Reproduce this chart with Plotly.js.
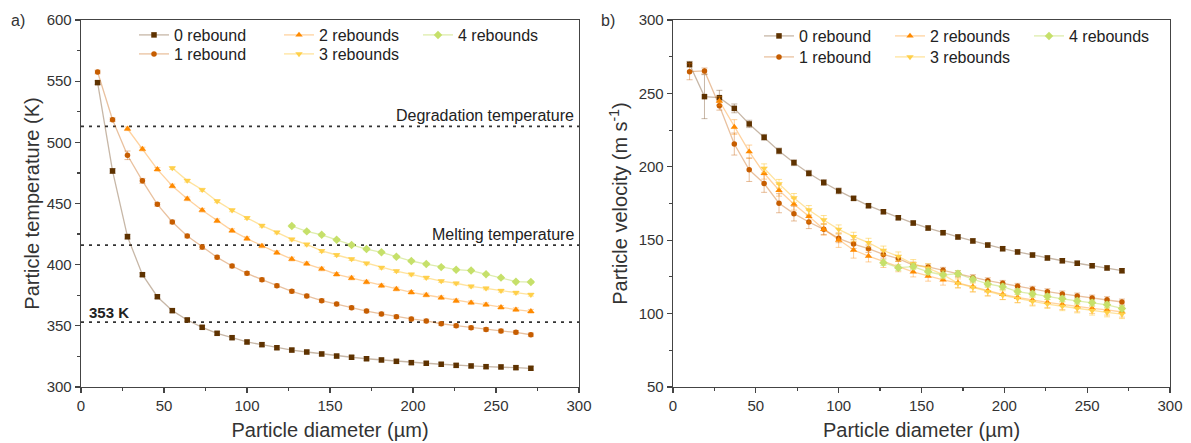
<!DOCTYPE html>
<html><head><meta charset="utf-8">
<script src="https://cdn.plot.ly/plotly-3.0.1.min.js"></script>
<style>html,body{margin:0;padding:0;background:#fff}#chart{width:1191px;height:443px}</style>
</head><body><div id="chart"></div>
<script>
// Particle diameters (µm)
const diameters = [10,19,28,37,46,55,64,73,82,91,100,109,118,127,136,145,154,163,172,181,190,199,208,217,226,235,244,253,262,271];
const seriesNames = ['0 rebound','1 rebound','2 rebounds','3 rebounds','4 rebounds'];
const startIndex = [0,0,2,5,13];

// Panel a) particle temperature (K)
const temp0 = [548.8,476.6,422.9,391.8,373.8,362.4,354.8,348.8,343.9,340.3,336.8,334.6,332.1,330.2,328.6,327.0,325.3,324.3,323.1,322.1,321.0,319.9,319.4,318.6,317.7,317.2,316.6,316.4,315.8,315.3];
const temp1 = [557.5,518.5,489.4,468.5,449.3,434.9,423.4,414.4,406.0,398.9,392.9,387.7,382.8,378.2,374.4,370.6,367.8,364.8,362.1,359.7,357.5,355.6,354.0,351.7,350.1,348.5,347.1,345.8,344.7,342.7];
const temp2 = [511.1,494.5,477.9,464.3,453.8,444.5,435.9,427.8,421.3,415.3,409.8,404.6,400.8,396.5,392.1,389.1,385.8,382.8,380.1,377.4,375.2,373.0,370.5,368.9,367.3,365.1,363.2,361.9];
const temp3 = [479.0,468.7,461.2,451.9,444.5,438.2,431.9,426.4,420.7,416.5,411.2,407.9,404.6,401.1,397.6,394.8,392.1,389.4,386.6,384.8,382.3,380.7,378.7,377.1,375.5];
const temp4 = [431.6,427.2,424.4,420.4,416.1,412.8,410.1,406.5,403.0,400.5,398.0,395.9,395.2,392.1,389.4,386.1,385.8];
const tempErr0 = [1.5,2,2,1.5,1.5,1.5,1.5,1.5,1.5,1.5,1.5,1.5,1.5,1.5,1.5,1.5,1.5,1.5,1.5,1.5,1.5,1.5,1.5,1.5,1.5,1.5,1.5,1.5,1.5,1.5];
const tempErr1 = [1.5,1.5,3.5,2,1.5,1.5,1.5,2,1.5,1.5,1.5,1.5,1.5,1.5,1.5,1.5,1.5,1.5,1.5,1.5,1.5,1.5,1.5,1.5,1.5,1.5,1.5,1.5,1.5,1.5];
const tempErr2 = [1.5,1.5,1.5,1.5,1.5,1.5,1.5,1.5,1.5,1.5,1.5,1.5,1.5,1.5,1.5,1.5,1.5,1.5,1.5,1.5,1.5,1.5,1.5,1.5,1.5,1.5,1.5,1.5];
const tempErr3 = [1.2,1.2,1.2,1.2,1.2,1.2,1.2,1.2,1.2,1.2,1.2,1.2,1.2,1.2,1.2,1.2,1.2,1.2,1.2,1.2,1.2,1.2,1.2,1.2,1.2];
const tempErr4 = [1,1,1,1,1,1,1,1,1,1,1,1,1,1,1,1,1];

// Panel b) particle velocity (m/s)
const vel0 = [269.8,247.8,247.1,239.8,229.2,220.1,210.8,202.8,195.6,189.3,183.6,178.5,173.5,169.4,165.3,161.7,158.3,155.1,152.2,149.5,146.7,144.2,142.0,139.9,137.9,136.0,134.3,132.6,131.1,129.2];
const vel1 = [264.8,265.3,241.6,215.5,198.0,188.6,175.2,168.1,162.4,157.4,151.3,147.4,144.2,140.3,137.5,133.1,131.8,129.5,127.2,124.5,122.4,120.6,118.6,116.6,114.9,113.4,112.0,110.6,109.5,107.9];
const vel2 = [244.8,227.1,210.3,195.6,184.0,174.5,166.3,157.4,150.1,143.3,139.2,135.4,132.0,128.5,125.6,122.9,121.0,118.3,115.6,113.1,111.1,109.3,107.7,106.3,104.7,103.6,102.5,101.1];
const vel3 = [199.0,188.4,178.8,170.6,163.8,157.4,152.4,148.3,143.0,139.0,133.8,131.0,126.5,120.6,117.8,115.0,112.5,110.3,108.2,106.5,105.0,103.5,102.0,100.8,99.6];
const vel4 = [134.7,131.3,132.0,128.5,126.3,127.2,123.4,120.2,118.3,115.0,113.4,111.6,110.1,108.6,107.4,106.0,103.5];
const velErr0 = [2,15,5,3,2.5,2,2,2,2,2,2,1.5,1.5,1.5,1.5,1.5,1.5,1.5,1.5,1.5,1.5,1.5,1.5,1.5,1.5,1.5,1.5,1.5,1.5,1.5];
const velErr1 = [5.5,2,3,7.5,8,6,6.5,5,4.5,3.5,3,3,2.5,2.5,2,2,2,2,2,2,2,2,2,2,2,2,2,2,2,2];
const velErr2 = [3,5,4.5,4,4,4,4,4,5,5.5,4,4,3.5,3.5,3.5,3.5,3.5,3.5,3.5,3.5,3.5,3.5,3.5,3.5,3.5,3.5,3.5,3.5];
const velErr3 = [3,3,3,3,3,3,3,3,3,3,3,3,3,3,3,3,3,3,3,3,3,3,3,3,3];
const velErr4 = [2,2,2,2,2,2,2,2,2,2,2,2,2,2,2,2,2];

// Reference temperatures (K)
const degradationTemp = 513;
const meltingTemp = 416;
const thresholdTemp = 353;

const markerColors = ['#5e3200','#c65d00','#ff8a00','#ffd04a','#c6e06a'];
const lineColors = ['rgba(94,50,0,0.35)','rgba(198,93,0,0.38)','rgba(255,138,0,0.38)','rgba(255,200,60,0.5)','rgba(190,220,90,0.5)'];
const errColors = ['rgba(94,50,0,0.35)','rgba(198,93,0,0.4)','rgba(255,138,0,0.4)','rgba(255,200,60,0.55)','rgba(190,220,90,0.55)'];
const symbols = ['square','circle','triangle-up','triangle-down','diamond'];
const sizes = [5.5,5.5,6.5,6.5,6.5];

const tempSeries = [temp0,temp1,temp2,temp3,temp4];
const tempErrs = [tempErr0,tempErr1,tempErr2,tempErr3,tempErr4];
const velSeries = [vel0,vel1,vel2,vel3,vel4];
const velErrs = [velErr0,velErr1,velErr2,velErr3,velErr4];

const FONT = 'Liberation Sans, Arial, sans-serif';
const L = 81, R = 1170, T = 20, B = 387, W = 1191, H = 443;
const pw = R - L, ph = B - T;
const px = v => (v - L) / pw;
const py = v => (B - v) / ph;

// legend text anchor positions (px) for each series, per panel
const legendTextX = [[175,175,320,320,459],[800,800,931,931,1070]];
const legendTextY = [[35,54,35,54,35],[36,57,36,57,36]];

const traces = [];
const legends = {};
let legCount = 0;
function legendAt(textX, textY) {
  return {
    orientation: 'h', x: px(textX - 41), y: py(textY), xanchor: 'left', yanchor: 'middle',
    xref: 'paper', yref: 'paper',
    bgcolor: 'rgba(0,0,0,0)', borderwidth: 0,
    font: {family: FONT, size: 16, color: '#222'},
    itemwidth: 30, tracegroupgap: 0
  };
}
function addTraces(p, ys, errs, xa, ya) {
  for (let i = 0; i < 5; i++) {
    legCount++;
    const key = legCount === 1 ? 'legend' : 'legend' + legCount;
    legends[key] = legendAt(legendTextX[p][i], legendTextY[p][i]);
    traces.push({
      type: 'scatter', mode: 'lines+markers',
      name: seriesNames[i],
      x: diameters.slice(startIndex[i]),
      y: ys[i],
      xaxis: xa, yaxis: ya,
      legend: key,
      line: {color: lineColors[i], width: 1.3},
      marker: {symbol: symbols[i], size: sizes[i], color: markerColors[i], line: {width: 0}},
      error_y: {type: 'data', array: errs[i], visible: true, color: errColors[i], thickness: 1, width: 3},
      cliponaxis: false
    });
  }
}
addTraces(0, tempSeries, tempErrs, 'x', 'y');
addTraces(1, velSeries, velErrs, 'x2', 'y2');

function axisBase(extra) {
  return Object.assign({
    showline: true, linecolor: '#444', linewidth: 1.3, mirror: true,
    ticks: 'outside', ticklen: 5, tickwidth: 1.2, tickcolor: '#444',
    showgrid: false, zeroline: false,
    tickfont: {family: FONT, size: 15, color: '#333'}
  }, extra);
}
const minorTicks = {dtick: 25, ticks: 'outside', ticklen: 3, tickcolor: '#444', tickwidth: 1.2, showgrid: false};

const layout = Object.assign({
  width: W, height: H,
  margin: {l: L, r: W - R, t: T, b: H - B, pad: 0},
  paper_bgcolor: '#fff', plot_bgcolor: '#fff',
  font: {family: FONT, color: '#333'},
  showlegend: true,
  xaxis: axisBase({domain: [0, px(579)], range: [0, 300], dtick: 50, tick0: 0, anchor: 'y', minor: minorTicks,
    title: {text: 'Particle diameter (µm)', font: {family: FONT, size: 20, color: '#333'}, standoff: 9}}),
  yaxis: axisBase({domain: [0, 1], range: [300, 600], dtick: 50, tick0: 300, anchor: 'x', minor: minorTicks,
    title: {text: 'Particle temperature (K)', font: {family: FONT, size: 20, color: '#333'}, standoff: 1}}),
  xaxis2: axisBase({domain: [px(673), 1], range: [0, 300], dtick: 50, tick0: 0, anchor: 'y2', minor: minorTicks,
    title: {text: 'Particle diameter (µm)', font: {family: FONT, size: 20, color: '#333'}, standoff: 9}}),
  yaxis2: axisBase({domain: [0, 1], range: [50, 300], dtick: 50, tick0: 50, anchor: 'x2', minor: minorTicks,
    title: {text: 'Particle velocity (m s<sup>-1</sup>)', font: {family: FONT, size: 20, color: '#333'}, standoff: 5}}),
  shapes: [degradationTemp, meltingTemp, thresholdTemp].map(v => ({
    type: 'line', xref: 'x domain', yref: 'y', x0: 0, x1: 1, y0: v, y1: v,
    line: {color: '#333', width: 1.8, dash: '3px,5px'}, layer: 'below'
  })),
  annotations: [
    {text: 'Degradation temperature', xref: 'x domain', yref: 'y', x: 1, y: degradationTemp, xanchor: 'right', yanchor: 'bottom', xshift: -3, showarrow: false, font: {family: FONT, size: 16, color: '#222'}},
    {text: 'Melting temperature', xref: 'x domain', yref: 'y', x: 1, y: meltingTemp, xanchor: 'right', yanchor: 'bottom', xshift: -3, showarrow: false, font: {family: FONT, size: 16, color: '#222'}},
    {text: '<b>' + thresholdTemp + ' K</b>', xref: 'x domain', yref: 'y', x: 0, y: thresholdTemp, xanchor: 'left', yanchor: 'bottom', xshift: 6, yshift: -1, showarrow: false, font: {family: FONT, size: 15, color: '#222'}},
    {text: 'a)', xref: 'paper', yref: 'paper', x: px(9), y: py(20), xanchor: 'left', yanchor: 'middle', showarrow: false, font: {family: FONT, size: 16, color: '#333'}},
    {text: 'b)', xref: 'paper', yref: 'paper', x: px(599), y: py(20), xanchor: 'left', yanchor: 'middle', showarrow: false, font: {family: FONT, size: 16, color: '#333'}}
  ]
}, legends);

Plotly.newPlot('chart', traces, layout, {displayModeBar: false, staticPlot: true});
</script>
</body></html>
